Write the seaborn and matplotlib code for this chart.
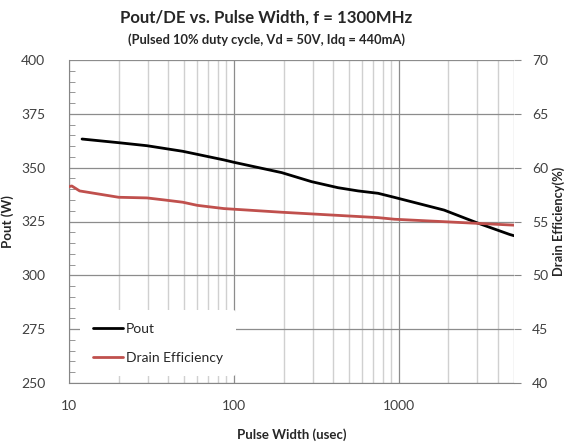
import matplotlib
matplotlib.use("Agg")
import matplotlib.pyplot as plt
import seaborn as sns
import pandas as pd
from matplotlib.ticker import FixedLocator, NullFormatter, MultipleLocator

# Data
pw_pout = [12, 20, 29.7, 49, 87, 100, 195, 296, 428, 567, 749, 942, 1884, 2981, 4700, 5000]
pout = [363.3, 361.6, 360.2, 357.6, 353.6, 352.5, 347.7, 343.5, 340.7, 339.2, 338.1, 336.2, 330.3, 324.4, 319.0, 318.4]

pw_de = [10, 10.4, 11.6, 20, 29.7, 37.9, 49, 60, 87, 195, 749, 942, 4700, 5000]
de = [58.24, 58.3, 57.84, 57.25, 57.19, 57.0, 56.79, 56.5, 56.2, 55.86, 55.36, 55.21, 54.68, 54.66]

x_ticks = [10, 100, 1000]
x_ticklabels = ["10", "100", "1000"]
title = "Pout/DE vs. Pulse Width, f = 1300MHz"
subtitle = "(Pulsed 10% duty cycle, Vd = 50V, Idq = 440mA)"

sns.set_style("white")
plt.rcParams['font.family'] = ['Lato', 'DejaVu Sans']

df1 = pd.DataFrame({"pw": pw_pout, "Pout": pout})
df2 = pd.DataFrame({"pw": pw_de, "DE": de})

fig = plt.figure(figsize=(5.67, 4.43), dpi=100)
ax = fig.add_axes([69/567, 1-383/443, (514-69)/567, (383-60)/443])
ax2 = ax.twinx()

red = "#C0504D"
sns.lineplot(data=df1, x="pw", y="Pout", ax=ax, color="black", lw=2.0, label="Pout", legend=False,
             solid_joinstyle="round", solid_capstyle="round")
sns.lineplot(data=df2, x="pw", y="DE", ax=ax2, color=red, lw=2.0, label="Drain Efficiency", legend=False,
             solid_joinstyle="round", solid_capstyle="round")

ax.set_xscale("log")
ax.set_xlim(10, 5000)
ax.set_ylim(250, 400)
ax2.set_ylim(40, 70)
ax.yaxis.set_major_locator(MultipleLocator(25))
ax.yaxis.set_minor_locator(MultipleLocator(5))
ax2.yaxis.set_major_locator(MultipleLocator(5))

minors = [m * d for d in [10, 100, 1000] for m in range(2, 10) if m * d <= 5000]
ax.xaxis.set_major_locator(FixedLocator(x_ticks))
ax.xaxis.set_minor_locator(FixedLocator(minors))
ax.set_xticklabels(x_ticklabels)
ax.xaxis.set_minor_formatter(NullFormatter())

ax.grid(True, which="major", axis="both", color="#8c8c8c", lw=0.9)
ax.grid(True, which="minor", axis="x", color="#d0d0d0", lw=1.0)
ax.set_axisbelow(True)

for s in ["top", "right"]:
    ax.spines[s].set_visible(False)
    ax2.spines[s].set_visible(False)
ax2.spines["left"].set_visible(False)
ax2.spines["bottom"].set_visible(False)
ax.spines["left"].set_color("#868686")
ax.spines["bottom"].set_color("#868686")

tcol = "#404040"
ax.tick_params(axis="y", which="major", length=0, labelsize=10, pad=17, labelcolor=tcol)
ax.tick_params(axis="y", which="minor", direction="in", length=4, color="#868686")
ax.tick_params(axis="x", which="major", length=0, labelsize=10, pad=12, labelcolor=tcol)
ax.tick_params(axis="x", which="minor", direction="in", length=8, color="#d0d0d0")
ax2.tick_params(axis="y", which="major", length=5, color="#868686", labelsize=10, pad=8, labelcolor=tcol)

ax.set_xlabel("Pulse Width (usec)", fontsize=9.5, fontweight="bold", labelpad=12)
ax.set_ylabel("Pout (W)", fontsize=9.5, fontweight="bold")
ax2.set_ylabel("Drain Efficiency(%)", fontsize=9.3, fontweight="bold")
ax.yaxis.set_label_coords((14 - 69) / 445, 0.5)
ax2.yaxis.set_label_coords((552 - 69) / 445, 0.5)

fig.text(266/567, 1-18/443, title, ha="center", va="center", fontsize=12.1, fontweight="bold")
fig.text(266/567, 1-40/443, subtitle, ha="center", va="center", fontsize=9.3, fontweight="bold")

h1, l1 = ax.get_legend_handles_labels()
h2, l2 = ax2.get_legend_handles_labels()
leg = ax2.legend(h1 + h2, l1 + l2, loc="lower left", bbox_to_anchor=(0.01, 0.0),
                 frameon=True, fontsize=10, handlelength=2.2, handletextpad=0.2,
                 labelspacing=1.2, borderpad=0.9)
leg.get_frame().set_edgecolor("none")
leg.get_frame().set_facecolor("white")
leg.get_frame().set_alpha(1)

fig.savefig("out.png", dpi=100)
